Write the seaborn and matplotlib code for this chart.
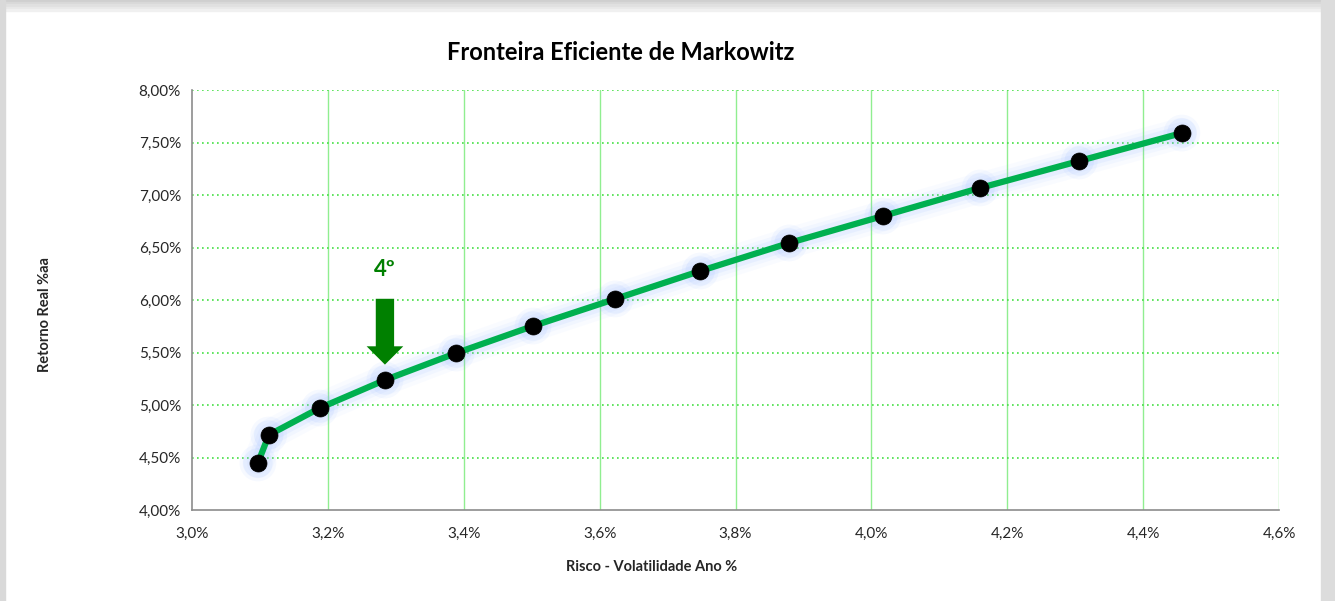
import matplotlib
matplotlib.use("Agg")
import matplotlib.pyplot as plt
import seaborn as sns
import pandas as pd
from matplotlib.ticker import FuncFormatter, MultipleLocator
from matplotlib.patches import Rectangle

# Data (percent)
risco = [3.097, 3.113, 3.188, 3.284, 3.389, 3.502, 3.623, 3.748, 3.879, 4.017, 4.160, 4.306, 4.457]
retorno = [4.448, 4.714, 4.971, 5.238, 5.495, 5.752, 6.010, 6.276, 6.543, 6.800, 7.067, 7.324, 7.590]
destaque_idx = 3
destaque_label = "4º"

titulo = "Fronteira Eficiente de Markowitz"
xlabel = "Risco - Volatilidade Ano %"
ylabel = "Retorno Real %aa"

df = pd.DataFrame({"risco": risco, "retorno": retorno})

sns.set_theme(style="white")
plt.rcParams['font.family'] = ['Lato', 'DejaVu Sans']

fig = plt.figure(figsize=(13.35, 6.01), dpi=100)
fig.patch.set_facecolor("white")
ax = fig.add_axes([192/1335, 1-510/601, (1279-192)/1335, (510-90)/601])

# frame shading like screenshot
for i, c in enumerate(["#cfcfcf", "#d8d8d8", "#e0e0e0", "#e8e8e8", "#f0f0f0"]):
    fig.patches.append(Rectangle((0, 1-(i+1)*2.2/601), 1, 2.2/601, transform=fig.transFigure, color=c, zorder=-1))
fig.patches.append(Rectangle((0, 0), 5/1335, 1, transform=fig.transFigure, color="#d9d9d9", zorder=-1))
fig.patches.append(Rectangle((1-14/1335, 0), 14/1335, 1, transform=fig.transFigure, color="#dcdcdc", zorder=-1))

# soft blue glow
for lw, a in [(22, 0.04), (16, 0.06), (11, 0.09)]:
    sns.lineplot(data=df, x="risco", y="retorno", ax=ax, color="#7fa8ff", lw=lw, alpha=a,
                 sort=False, estimator=None, solid_capstyle="round")
for s, a in [(700, 0.08), (450, 0.12)]:
    sns.scatterplot(data=df, x="risco", y="retorno", ax=ax, color="#8fb4ff", s=s, alpha=a,
                    edgecolor="none", zorder=3)
sns.lineplot(data=df, x="risco", y="retorno", ax=ax, color="#00B050", lw=4.5, sort=False,
             estimator=None, zorder=4)
sns.scatterplot(data=df, x="risco", y="retorno", ax=ax, color="black", s=150, edgecolor="black",
                linewidth=0.5, zorder=5)

ax.set_xlim(3.0, 4.6)
ax.set_ylim(4.0, 8.0)
ax.xaxis.set_major_locator(MultipleLocator(0.2))
ax.yaxis.set_major_locator(MultipleLocator(0.5))
ax.xaxis.set_major_formatter(FuncFormatter(lambda v, p: f"{v:.1f}%".replace(".", ",")))
ax.yaxis.set_major_formatter(FuncFormatter(lambda v, p: f"{v:.2f}%".replace(".", ",")))

ax.grid(False)
for xv in [3.2, 3.4, 3.6, 3.8, 4.0, 4.2, 4.4, 4.6]:
    ax.axvline(xv, color="#90ee90", lw=1.0, zorder=1)
for yv in [4.5, 5.0, 5.5, 6.0, 6.5, 7.0, 7.5, 8.0]:
    ax.axhline(yv, color="#44e044", lw=1.2, ls=(0, (1, 2)), zorder=1)

for s in ["top", "right"]:
    ax.spines[s].set_visible(False)
for s in ["left", "bottom"]:
    ax.spines[s].set_color("#8c8c8c")
    ax.spines[s].set_linewidth(1.2)
ax.tick_params(axis="both", length=0, labelsize=11, colors="#262626")
ax.tick_params(axis="x", pad=12)
ax.tick_params(axis="y", pad=8)

ax.set_xlabel("")
ax.set_ylabel("")
fig.text(652/1335, 1-567/601, xlabel, ha="center", va="center", fontsize=10.5, fontweight="bold", color="#262626")
fig.text(45/1335, 1-315/601, ylabel, ha="center", va="center", rotation=90, fontsize=10.5, fontweight="bold", color="#262626")
fig.text(621/1335, 1-52/601, titulo, ha="center", va="center", fontsize=17, fontweight="bold", color="black")

# arrow & label
xa, ya = risco[destaque_idx], retorno[destaque_idx]
ax.annotate("", xy=(xa, ya + 0.12), xytext=(xa, ya + 0.8),
            arrowprops=dict(arrowstyle="simple,head_width=2.2,head_length=1.1,tail_width=1.1",
                            color="#008000", lw=0), zorder=6)
ax.text(xa, ya + 1.05, destaque_label, ha="center", va="center", fontsize=16, fontweight="bold", color="#008000")

fig.savefig("out.png", dpi=100)
